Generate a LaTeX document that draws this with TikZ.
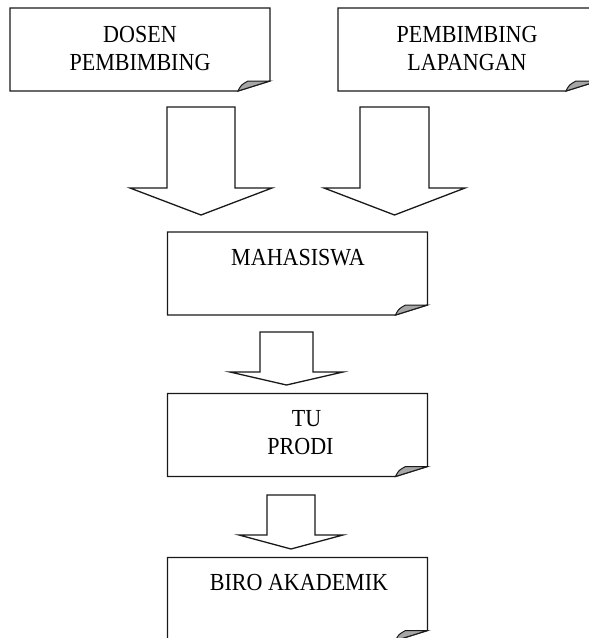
\documentclass[tikz,border=0pt]{standalone}
\usepackage{fontspec}
\setmainfont[FakeStretch=0.9]{Liberation Serif}
\begin{document}
\begin{tikzpicture}[x=1pt,y=-1pt,
  boxnode/.style={minimum width=260pt,minimum height=83pt,inner sep=0pt,outer sep=0pt},
  boxline/.style={draw=black!90,line width=1.3pt,line join=miter,fill=white},
  foldstyle/.style={draw=black!90,line width=1pt,fill=black!35},
  label/.style={align=center,inner sep=0pt,font=\fontsize{24.5}{28}\selectfont},
  blockarrow/.style={draw=black!90,line width=1.3pt,fill=white,line join=miter}]
\useasboundingbox (0,0) rectangle (589,638);
\clip (0,0) rectangle (589,638);
\newcommand\foldoutline[1]{%
  \draw[boxline] (#1.north west) -- (#1.north east) -- ([yshift=10pt]#1.south east)
     -- ([xshift=-32pt]#1.south east) -- (#1.south west) -- cycle;
  \filldraw[foldstyle] ([xshift=-32pt]#1.south east)
     .. controls ([xshift=-29pt,yshift=6pt]#1.south east) .. ([xshift=-22pt,yshift=10pt]#1.south east)
     -- ([yshift=10pt]#1.south east) -- cycle;}
% cx, top, shaft half, shoulder, wing half, tip
\newcommand\downarrowshape[6]{%
  \draw[blockarrow] (#1-#3,#2) -- (#1+#3,#2) -- (#1+#3,#4) -- (#1+#5,#4) -- (#1,#6)
     -- (#1-#5,#4) -- (#1-#3,#4) -- cycle;}
% boxes
\node[boxnode] (dosen) at (140,49.5) {};
\node[boxnode] (lapangan) at (468,49.5) {};
\node[boxnode] (mhs) at (297.5,273.5) {};
\node[boxnode] (tu) at (297.5,435) {};
\node[boxnode] (biro) at (297.5,599) {};
\foldoutline{dosen}
\foldoutline{lapangan}
\foldoutline{mhs}
\foldoutline{tu}
\foldoutline{biro}
% arrows
\downarrowshape{201}{107}{34}{188}{71}{215}
\downarrowshape{394.5}{107}{34.5}{188}{70.5}{215}
\downarrowshape{286.5}{332}{26.5}{372}{56.5}{385}
\downarrowshape{291}{495}{24}{535}{52}{549}
% labels
\node[label] (t1) at (140,49) {DOSEN\\PEMBIMBING};
\node[label] (t2) at (467,49) {PEMBIMBING\\LAPANGAN};
\node[label] (t3) at (298,258) {MAHASISWA};
\node[label] (t4) at (300.5,432.5) {\hspace*{12pt}TU\\PRODI};
\node[label] (t5) at (299,583) {BIRO AKADEMIK};
\end{tikzpicture}
\end{document}
